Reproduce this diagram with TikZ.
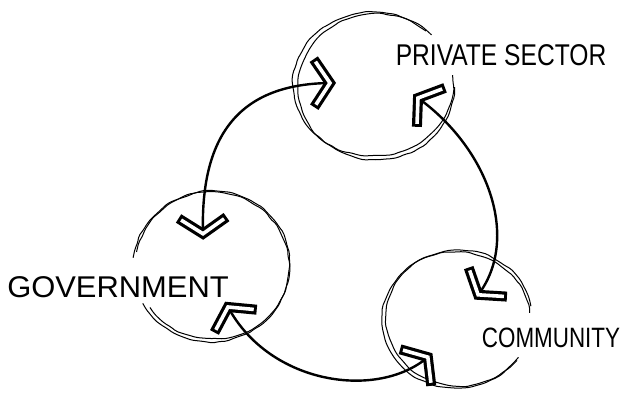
\documentclass[tikz,border=0pt]{standalone}
\usepackage{fontspec}
\setmainfont{Liberation Sans}
\usepackage{graphicx}
\usepackage{tikz}
\usetikzlibrary{calc,decorations.markings,decorations.pathmorphing}

\newcommand\chevhead{%
  \draw[line width=10pt] (-16,24) -- (0,0) -- (-16,-24);
  \draw[white, line width=3.6pt, shorten <=3pt, shorten >=3pt] (-16,24) -- (0,0) -- (-16,-24);}
\newcommand\chevtail{%
  \draw[line width=10pt] (16,24) -- (0,0) -- (16,-24);
  \draw[white, line width=3.6pt, shorten <=3pt, shorten >=3pt] (16,24) -- (0,0) -- (16,-24);}

\tikzset{
  sector/.style={circle, minimum size=150pt, inner sep=0pt},
  lbl/.style={font=\fontsize{30}{30}\selectfont, inner sep=0pt},
  sketch/.style={line width=1pt, decorate, rounded corners=2pt,
    decoration={random steps, segment length=7pt, amplitude=0.8pt}},
  link/.style={line width=2.4pt, postaction={decorate},
    decoration={markings, mark=at position 0 with {\chevtail}, mark=at position 0.999 with {\chevhead}}}
}

\begin{document}
\begin{tikzpicture}[x=1pt, y=1pt]
    \useasboundingbox (0,0) rectangle (620,398);
    \pgfmathsetseed{7}
    \node[sector] (priv) at (373,314) {};
    \node[sector] (gov) at (211,131) {};
    \node[sector] (comm) at (456,78) {};

    \draw[sketch] ($(priv.center)+(43:80 and 72)$) arc[start angle=43, end angle=367, x radius=80, y radius=72];
    \draw[sketch] ($(priv.center)+(3,-3)+(50:78 and 73)$) arc[start angle=50, end angle=360, x radius=78, y radius=73];
    \draw[sketch] ($(gov.center)+(209:78 and 75)$) arc[start angle=209, end angle=533, x radius=78, y radius=75];
    \draw[sketch] ($(gov.center)+(2,2)+(215:77 and 74)$) arc[start angle=215, end angle=530, x radius=77, y radius=74];
    \draw[sketch] ($(comm.center)+(6:74 and 68)$) arc[start angle=6, end angle=327, x radius=74, y radius=68];
    \draw[sketch] ($(comm.center)+(3,2)+(10:73 and 68)$) arc[start angle=10, end angle=322, x radius=73, y radius=68];

    \node[lbl] (privlbl) at (501,343) {\scalebox{0.82}[1]{PRIVATE SECTOR}};
    \node[lbl] (govlbl) at (118,111) {\scalebox{1.03}[1]{GOVERNMENT}};
    \node[lbl, font=\fontsize{28}{28}\selectfont] (commlbl) at (551,60) {\scalebox{0.8}[1]{COMMUNITY}};

    \coordinate (privA) at ($(priv.center)+(-43,1)$);
    \coordinate (privB) at ($(priv.center)+(45,-14)$);
    \coordinate (govA) at ($(gov.center)+(-8,33)$);
    \coordinate (govC) at ($(gov.center)+(17,-40)$);
    \coordinate (commB) at ($(comm.center)+(22,25)$);
    \coordinate (commC) at ($(comm.center)+(-28,-37)$);

    \draw[link] (privA) .. controls +(-88,-1) and +(-3,102) .. (govA);
    \draw[link] (privB) .. controls +(72,-52) and +(42,55) .. (commB);
    \draw[link] (govC) .. controls +(42,-78) and +(-50,-43) .. (commC);
\end{tikzpicture}
\end{document}
